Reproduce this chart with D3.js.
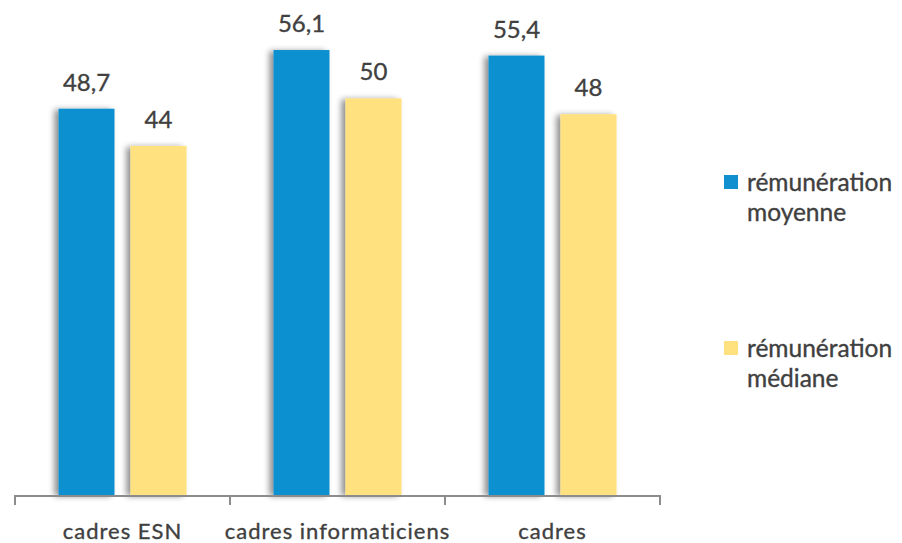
<!DOCTYPE html>
<html>
<head>
<meta charset="utf-8">
<script src="https://cdn.jsdelivr.net/npm/d3@7"></script>
<style>
  body { margin: 0; background: #fff; }
  text { font-family: Lato, "Open Sans", sans-serif; fill: #404040; stroke: #404040; stroke-width: 0.35px; }
</style>
</head>
<body>
<div id="chart"></div>
<script>
const categories = ["cadres ESN", "cadres informaticiens", "cadres"];
const series = ["rémunération moyenne", "rémunération médiane"];
const legendLines = [["rémunération", "moyenne"], ["rémunération", "médiane"]];
const moyenne = [48.7, 56.1, 55.4];
const mediane = [44, 50, 48];
const labels = [["48,7", "56,1", "55,4"], ["44", "50", "48"]];
const colors = ["#1190cf", "#ffe27f"];

const width = 902;
const height = 543;
const values = [moyenne, mediane];

const svg = d3.select("#chart")
  .append("svg")
  .attr("width", width)
  .attr("height", height);

// soft shadow on the left side of the bars
const defs = svg.append("defs");
const filter = defs.append("filter")
  .attr("id", "shadow")
  .attr("x", "-40%").attr("y", "-5%")
  .attr("width", "160%").attr("height", "110%");
filter.append("feGaussianBlur")
  .attr("in", "SourceAlpha")
  .attr("stdDeviation", 3)
  .attr("result", "blur");
filter.append("feOffset")
  .attr("in", "blur")
  .attr("dx", -4)
  .attr("dy", 1)
  .attr("result", "off");
filter.append("feComponentTransfer")
  .attr("in", "off")
  .attr("result", "soft")
  .append("feFuncA").attr("type", "linear").attr("slope", 0.45);
const merge = filter.append("feMerge");
merge.append("feMergeNode").attr("in", "soft");
merge.append("feMergeNode").attr("in", "SourceGraphic");

const x0 = d3.scaleBand()
  .domain(categories)
  .range([15, 660])
  .padding(0);

const x1 = d3.scaleBand()
  .domain(series)
  .range([0, x0.bandwidth()])
  .paddingInner(0.222)
  .paddingOuter(0.604);

const y = d3.scaleLinear()
  .domain([0, 60])
  .range([495, 495 - 60 * 7.932]);

const g = svg.append("g");

series.forEach((s, si) => {
  g.selectAll(".bar" + si)
    .data(categories)
    .enter()
    .append("rect")
    .attr("class", "bar" + si)
    .attr("x", c => x0(c) + x1(s))
    .attr("y", (c, i) => y(values[si][i]))
    .attr("width", x1.bandwidth())
    .attr("height", (c, i) => y(0) - y(values[si][i]))
    .attr("fill", colors[si])
    .attr("filter", "url(#shadow)");

  g.selectAll(".val" + si)
    .data(categories)
    .enter()
    .append("text")
    .attr("class", "val" + si)
    .attr("x", c => x0(c) + x1(s) + x1.bandwidth() / 2)
    .attr("y", (c, i) => y(values[si][i]) - 18)
    .attr("text-anchor", "middle")
    .attr("font-size", "24px")
    .text((c, i) => labels[si][i]);
});

// axis with ticks at category boundaries
const axisY = 496;
const bounds = [x0.range()[0]].concat(categories.map(c => x0(c) + x0.bandwidth()));
g.append("line")
  .attr("x1", bounds[0]).attr("x2", bounds[bounds.length - 1])
  .attr("y1", axisY).attr("y2", axisY)
  .attr("stroke", "#8c8c8c")
  .attr("stroke-width", 2);
g.selectAll(".tick")
  .data(bounds)
  .enter()
  .append("line")
  .attr("class", "tick")
  .attr("x1", d => d).attr("x2", d => d)
  .attr("y1", axisY - 1).attr("y2", axisY + 9)
  .attr("stroke", "#8c8c8c")
  .attr("stroke-width", 2);

g.selectAll(".cat")
  .data(categories)
  .enter()
  .append("text")
  .attr("class", "cat")
  .attr("x", c => x0(c) + x0.bandwidth() / 2)
  .attr("y", 539)
  .attr("text-anchor", "middle")
  .attr("font-size", "22px")
  .attr("letter-spacing", "1px")
  .text(c => c);

// legend
const legendY = [175, 341];
const legend = svg.append("g");
series.forEach((s, si) => {
  legend.append("rect")
    .attr("x", 724)
    .attr("y", legendY[si])
    .attr("width", 14)
    .attr("height", 14)
    .attr("fill", colors[si]);
  legendLines[si].forEach((line, li) => {
    legend.append("text")
      .attr("x", 747)
      .attr("y", legendY[si] + 16 + li * 30)
      .attr("font-size", "24.5px")
      .text(line);
  });
});
</script>
</body>
</html>
